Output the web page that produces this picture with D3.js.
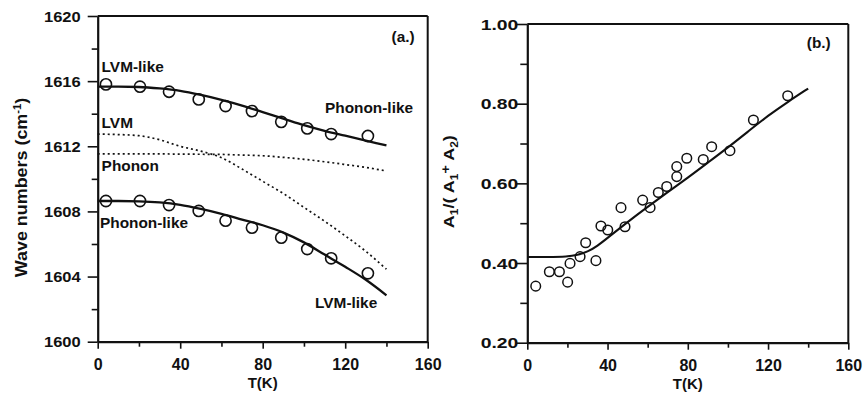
<!DOCTYPE html>
<html><head><meta charset="utf-8">
<script src="https://cdn.jsdelivr.net/npm/d3@7"></script>
<style>
html,body{margin:0;padding:0;background:#fff;}
svg{display:block;}
text{font-family:"Liberation Sans",Arial,sans-serif;font-weight:bold;fill:#111;}
</style></head>
<body>
<svg id="c" width="864" height="394"></svg>
<script>
// ---------- Panel (a) data ----------
const obsT = [4, 20.5, 34.6, 49, 62, 74.8, 89, 101.6, 113.2, 131];
const upperObs = [1615.8, 1615.66, 1615.35, 1614.88, 1614.47, 1614.16, 1613.5, 1613.1, 1612.75, 1612.63];
const lowerObs = [1608.64, 1608.64, 1608.39, 1608.03, 1607.43, 1607.0, 1606.39, 1605.69, 1605.12, 1604.2];
const fitT = [0, 10, 20, 30, 40, 50, 60, 70, 80, 90, 100, 110, 120, 130, 140];
const upperFit = [1615.66, 1615.66, 1615.64, 1615.55, 1615.4, 1615.15, 1614.85, 1614.5, 1614.1, 1613.7, 1613.3, 1612.95, 1612.65, 1612.35, 1612.05];
const lowerFit = [1608.64, 1608.64, 1608.62, 1608.55, 1608.4, 1608.15, 1607.85, 1607.5, 1607.15, 1606.7, 1606.1, 1605.35, 1604.6, 1603.8, 1602.85];
const lvmBare = [1612.75, 1612.72, 1612.65, 1612.4, 1612.0, 1611.7, 1611.3, 1610.6, 1609.85, 1609.1, 1608.25, 1607.4, 1606.5, 1605.55, 1604.45];
const phononBare = [1611.53, 1611.53, 1611.53, 1611.53, 1611.52, 1611.51, 1611.5, 1611.46, 1611.42, 1611.32, 1611.2, 1611.05, 1610.88, 1610.7, 1610.48];
const yTicksA = [1600, 1602, 1604, 1606, 1608, 1610, 1612, 1614, 1616, 1618, 1620];
const yLabelsA = [1600, 1604, 1608, 1612, 1616, 1620];
const annotA = [
  {t: "LVM-like", T: 1.9, v: 1616.58},
  {t: "Phonon-like", T: 110.2, v: 1614.04},
  {t: "LVM", T: 1.9, v: 1613.14},
  {t: "Phonon", T: 1.9, v: 1610.5},
  {t: "Phonon-like", T: 1.1, v: 1606.96},
  {t: "LVM-like", T: 105.4, v: 1602.05},
  {t: "(a.)", T: 142.5, v: 1618.42}
];

// ---------- Panel (b) data ----------
const obsTb = [4.2, 11, 16, 20.1, 21.3, 26.3, 29.1, 34.2, 36.7, 40.1, 46.7, 48.7, 57.5, 61.2, 65.3, 69.5, 74.5, 74.5, 79.5, 87.7, 91.9, 101, 112.7, 129.8];
const ratioObs = [0.342, 0.378, 0.378, 0.352, 0.399, 0.416, 0.451, 0.406, 0.493, 0.483, 0.539, 0.491, 0.558, 0.539, 0.577, 0.592, 0.617, 0.642, 0.663, 0.660, 0.692, 0.682, 0.759, 0.820];
const fitTb = [0, 10, 20, 25, 30, 35, 40, 50, 60, 70, 80, 90, 100, 110, 120, 130, 140];
const ratioFit = [0.415, 0.415, 0.416, 0.42, 0.428, 0.443, 0.463, 0.503, 0.541, 0.578, 0.614, 0.652, 0.69, 0.73, 0.77, 0.805, 0.838];
const yTicksB = [0.2, 0.3, 0.4, 0.5, 0.6, 0.7, 0.8, 0.9, 1.0];
const yLabelsB = [0.2, 0.4, 0.6, 0.8, 1.0];
const xTicks = [0, 20, 40, 60, 80, 100, 120, 140, 160];
const xLabels = [0, 40, 80, 120, 160];

const svg = d3.select("#c");

function panel(opt) {
  const x = d3.scaleLinear().domain([0, 160]).range(opt.xr);
  const y = d3.scaleLinear().domain(opt.yd).range(opt.yr);
  const g = svg.append("g");
  const isMajorY = v => opt.yLabels.some(l => Math.abs(l - v) < 1e-9);
  const isMajorX = v => xLabels.includes(v);

  // frame top & right
  g.append("line").attr("x1", opt.xr[0]).attr("x2", opt.xr[1]).attr("y1", opt.yr[1]).attr("y2", opt.yr[1])
    .attr("stroke", "#111").attr("stroke-width", 2);
  g.append("line").attr("x1", opt.xr[1]).attr("x2", opt.xr[1]).attr("y1", opt.yr[1]).attr("y2", opt.yr[0])
    .attr("stroke", "#111").attr("stroke-width", 2);

  // y axis
  const ya = g.append("g").attr("transform", `translate(${opt.xr[0]},0)`)
    .call(d3.axisLeft(y).tickValues(opt.yTicks).tickSizeOuter(0)
      .tickFormat(d => isMajorY(d) ? opt.yFmt(d) : ""));
  ya.select(".domain").attr("stroke", "#111").attr("stroke-width", 2.2);
  ya.selectAll(".tick line").attr("stroke", "#111").attr("stroke-width", 1.6)
    .attr("x2", d => isMajorY(d) ? -opt.yMaj : -opt.yMin);
  ya.selectAll(".tick text").attr("x", 0).attr("dy", "0.36em")
    .attr("transform", `translate(${opt.yLabOff},0) scale(${opt.yStretch},1)`)
    .style("font-size", opt.yFont + "px").style("font-family", "'Liberation Sans',Arial,sans-serif").style("font-weight", "bold").attr("fill", "#111");

  // x axis
  const xa = g.append("g").attr("transform", `translate(0,${opt.yr[0]})`)
    .call(d3.axisBottom(x).tickValues(xTicks).tickSizeOuter(0)
      .tickFormat(d => isMajorX(d) ? d : ""));
  xa.select(".domain").attr("stroke", "#111").attr("stroke-width", 2.2);
  xa.selectAll(".tick line").attr("stroke", "#111").attr("stroke-width", 1.6)
    .attr("y2", d => isMajorX(d) ? 7 : 5);
  xa.selectAll(".tick text").attr("y", opt.xLabY).attr("dy", "0.71em")
    .style("font-size", "16px").style("font-family", "'Liberation Sans',Arial,sans-serif").style("font-weight", "bold").attr("fill", "#111");

  g.append("text").attr("x", (opt.xr[0] + opt.xr[1]) / 2 + opt.tkDx).attr("y", opt.tkY)
    .attr("text-anchor", "middle").style("font-size", "15px").text("T(K)");
  return {x, y, g};
}

// ---------- Panel (a) ----------
const A = panel({
  xr: [97.7, 427.7], yr: [341.7, 16], yd: [1600, 1620],
  yTicks: yTicksA, yLabels: yLabelsA, yFmt: d => d,
  yMaj: 10, yMin: 6, yLabOff: -17, yStretch: 1.18, yFont: 14,
  xLabY: 17, tkDx: 0, tkY: 388
});
const lineA = d3.line().x(d => A.x(d[0])).y(d => A.y(d[1])).curve(d3.curveMonotoneX);
[[upperFit, null], [lowerFit, null], [lvmBare, "2,3"], [phononBare, "2,3"]].forEach(([arr, dash]) => {
  A.g.append("path").datum(fitT.map((t, i) => [t, arr[i]])).attr("d", lineA)
    .attr("fill", "none").attr("stroke", "#111")
    .attr("stroke-width", dash ? 1.7 : 2.3)
    .attr("stroke-dasharray", dash);
});
[upperObs, lowerObs].forEach(arr => {
  A.g.selectAll(null).data(obsT.map((t, i) => [t, arr[i]])).enter().append("circle")
    .attr("cx", d => A.x(d[0])).attr("cy", d => A.y(d[1])).attr("r", 5.6)
    .attr("fill", "none").attr("stroke", "#111").attr("stroke-width", 1.6);
});
annotA.forEach(a => {
  A.g.append("text").attr("transform", `translate(${A.x(a.T)},${A.y(a.v)}) scale(1.1,1)`)
    .style("font-size", "14px").text(a.t);
});
// y title (a)
const ta = svg.append("text").attr("transform", "translate(26.5,187.5) rotate(-90) scale(1.12,1)")
  .attr("text-anchor", "middle").style("font-size", "16px");
ta.append("tspan").text("Wave numbers (cm");
ta.append("tspan").attr("dy", -6).style("font-size", "10px").text("-1");
ta.append("tspan").attr("dy", 6).text(")");

// ---------- Panel (b) ----------
const B = panel({
  xr: [527.3, 848.3], yr: [342.7, 24], yd: [0.2, 1.0],
  yTicks: yTicksB, yLabels: yLabelsB, yFmt: d3.format(".2f"),
  yMaj: 11, yMin: 7, yLabOff: -9, yStretch: 1.38, yFont: 14,
  xLabY: 17, tkDx: 0, tkY: 389
});
const lineB = d3.line().x(d => B.x(d[0])).y(d => B.y(d[1])).curve(d3.curveBasis);
B.g.append("path").datum(fitTb.map((t, i) => [t, ratioFit[i]])).attr("d", lineB)
  .attr("fill", "none").attr("stroke", "#111").attr("stroke-width", 2.1);
B.g.selectAll(null).data(obsTb.map((t, i) => [t, ratioObs[i]])).enter().append("circle")
  .attr("cx", d => B.x(d[0])).attr("cy", d => B.y(d[1])).attr("r", 4.8)
  .attr("fill", "none").attr("stroke", "#111").attr("stroke-width", 1.5);
B.g.append("text").attr("transform", `translate(${B.x(139.3)},${B.y(0.939)}) scale(1.1,1)`)
  .style("font-size", "14px").text("(b.)");
// y title (b)
const tb = svg.append("text").attr("transform", "translate(454,181.7) rotate(-90) scale(1.2,1)")
  .attr("text-anchor", "middle").style("font-size", "15px");
tb.append("tspan").text("A");
tb.append("tspan").attr("dy", 4).style("font-size", "10px").text("1");
tb.append("tspan").attr("dy", -4).text("/( A");
tb.append("tspan").attr("dy", 4).style("font-size", "10px").text("1");
tb.append("tspan").attr("dy", -8).style("font-size", "12px").text("+");
tb.append("tspan").attr("dy", 4).text(" A");
tb.append("tspan").attr("dy", 4).style("font-size", "10px").text("2");
tb.append("tspan").attr("dy", -4).text(")");
</script>
</body></html>
